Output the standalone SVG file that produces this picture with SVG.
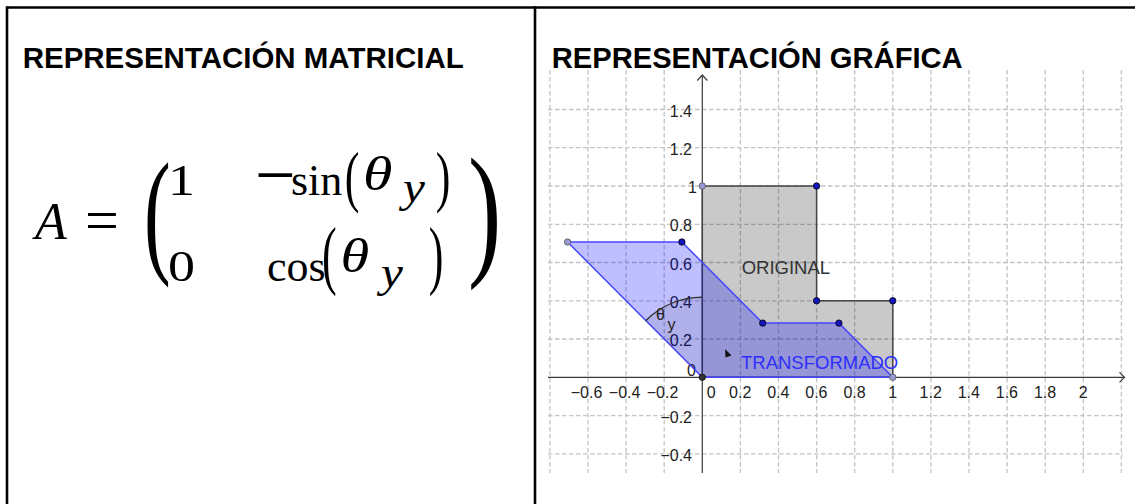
<svg xmlns="http://www.w3.org/2000/svg" width="1135" height="504" viewBox="0 0 1135 504">
<style>
.border{stroke:#000;stroke-width:2.6;fill:none}
.head{font-family:"Liberation Sans",Arial,sans-serif;font-weight:bold;font-size:29.2px;fill:#000}
.math{font-family:"Liberation Serif","Times New Roman",serif;fill:#000}
.it{font-style:italic}
.grid line{stroke:#c4c4c4;stroke-width:1.3;stroke-dasharray:4.5 2.5}
.axis{stroke:#3a3a3a;stroke-width:1.2;fill:none}
.tick{font-family:"Liberation Sans",Arial,sans-serif;font-size:16px;fill:#222}
.lbl{font-family:"Liberation Sans",Arial,sans-serif;font-size:18.5px}
.pd{fill:#1515c0;stroke:#000;stroke-width:0.8}
.pl{fill:#9a9ad8;stroke:#555;stroke-width:0.8}
</style>
<g id="table">
<line class="border" x1="7" y1="7.5" x2="1135" y2="7.5"/>
<line class="border" x1="7" y1="6.2" x2="7" y2="504"/>
<line class="border" x1="535" y1="6.2" x2="535" y2="504"/>
</g>
<g id="matrix-panel">
<text class="head" x="22.7" y="67.5" textLength="441" lengthAdjust="spacingAndGlyphs">REPRESENTACIÓN MATRICIAL</text>
<text class="math it" x="35" y="239" font-size="52">A</text>
<text class="math" x="85" y="240" font-size="60">=</text>
<text class="math" font-size="80" transform="translate(144,224) scale(1,1.72)" x="0" y="19.9">(</text>
<text class="math" font-size="45" transform="translate(181.5,195) scale(1.2,1)" text-anchor="middle">1</text>
<text class="math" font-size="45" transform="translate(181.5,281) scale(1.2,1)" text-anchor="middle">0</text>
<text class="math" font-size="72" x="255" y="199">−</text>
<text class="math" font-size="44" x="291" y="195">sin</text>
<text class="math" font-size="44" transform="translate(344.8,182.5) scale(1,1.54)" x="0" y="10.9">(</text>
<text class="math it" font-size="48" transform="translate(363,190) scale(1.25,1)">θ</text>
<text class="math it" font-size="44" transform="translate(403,202) scale(1.12,1)">y</text>
<text class="math" font-size="44" transform="translate(435.7,182.5) scale(1,1.54)" x="0" y="10.9">)</text>
<text class="math" font-size="44" x="267" y="281">cos</text>
<text class="math" font-size="44" transform="translate(322,261) scale(1,1.71)" x="0" y="10.9">(</text>
<text class="math it" font-size="48" transform="translate(340.5,272) scale(1.22,1)">θ</text>
<text class="math it" font-size="44" transform="translate(381,287) scale(1.12,1)">y</text>
<text class="math" font-size="44" transform="translate(428.7,261) scale(1,1.71)" x="0" y="10.9">)</text>
<text class="math" font-size="80" transform="translate(468,222.5) scale(1.25,1.84)" x="0" y="19.9">)</text>
</g>
<g id="graph-panel">
<text class="head" x="551.7" y="67.5" textLength="411" lengthAdjust="spacingAndGlyphs">REPRESENTACIÓN GRÁFICA</text>
<g class="grid">
<line x1="549.9" y1="70" x2="549.9" y2="473"/>
<line x1="588" y1="70" x2="588" y2="473"/>
<line x1="626.1" y1="70" x2="626.1" y2="473"/>
<line x1="664.2" y1="70" x2="664.2" y2="473"/>
<line x1="740.4" y1="70" x2="740.4" y2="473"/>
<line x1="778.5" y1="70" x2="778.5" y2="473"/>
<line x1="816.6" y1="70" x2="816.6" y2="473"/>
<line x1="854.7" y1="70" x2="854.7" y2="473"/>
<line x1="892.8" y1="70" x2="892.8" y2="473"/>
<line x1="930.9" y1="70" x2="930.9" y2="473"/>
<line x1="969" y1="70" x2="969" y2="473"/>
<line x1="1007.1" y1="70" x2="1007.1" y2="473"/>
<line x1="1045.2" y1="70" x2="1045.2" y2="473"/>
<line x1="1083.3" y1="70" x2="1083.3" y2="473"/>
<line x1="1121.4" y1="70" x2="1121.4" y2="473"/>
<line x1="548" y1="109.5" x2="1123" y2="109.5"/>
<line x1="548" y1="147.7" x2="1123" y2="147.7"/>
<line x1="548" y1="186" x2="1123" y2="186"/>
<line x1="548" y1="224.3" x2="1123" y2="224.3"/>
<line x1="548" y1="262.5" x2="1123" y2="262.5"/>
<line x1="548" y1="300.8" x2="1123" y2="300.8"/>
<line x1="548" y1="339" x2="1123" y2="339"/>
<line x1="548" y1="415.6" x2="1123" y2="415.6"/>
<line x1="548" y1="453.8" x2="1123" y2="453.8"/>
</g>
<g id="axes">
<line class="axis" x1="548" y1="377.3" x2="1124.5" y2="377.3"/>
<polyline class="axis" points="1119.5,372.3 1124.5,377.3 1119.5,382.3"/>
<line class="axis" x1="702.3" y1="473" x2="702.3" y2="75"/>
<polyline class="axis" points="697.3,80.5 702.3,75 707.3,80.5"/>
</g>
<g id="tick-labels" class="tick">
<text x="692" y="116.5" text-anchor="end">1.4</text>
<text x="692" y="154.7" text-anchor="end">1.2</text>
<text x="697" y="193" text-anchor="end">1</text>
<text x="692" y="231.3" text-anchor="end">0.8</text>
<text x="692" y="269.5" text-anchor="end">0.6</text>
<text x="692" y="307.8" text-anchor="end">0.4</text>
<text x="692" y="346" text-anchor="end">0.2</text>
<text x="696" y="375.7" text-anchor="end">0</text>
<text x="692" y="422.6" text-anchor="end">−0.2</text>
<text x="692" y="460.8" text-anchor="end">−0.4</text>
<text x="586.5" y="398" text-anchor="middle">−0.6</text>
<text x="624.6" y="398" text-anchor="middle">−0.4</text>
<text x="662.5" y="398" text-anchor="middle">−0.2</text>
<text x="711.3" y="398" text-anchor="middle">0</text>
<text x="740.2" y="398" text-anchor="middle">0.2</text>
<text x="778.3" y="398" text-anchor="middle">0.4</text>
<text x="816.4" y="398" text-anchor="middle">0.6</text>
<text x="854.5" y="398" text-anchor="middle">0.8</text>
<text x="892.6" y="398" text-anchor="middle">1</text>
<text x="930.7" y="398" text-anchor="middle">1.2</text>
<text x="968.8" y="398" text-anchor="middle">1.4</text>
<text x="1006.9" y="398" text-anchor="middle">1.6</text>
<text x="1045" y="398" text-anchor="middle">1.8</text>
<text x="1083.3" y="398" text-anchor="middle">2</text>
</g>
<g id="original">
<polygon points="702.3,377.3 892.8,377.3 892.8,300.8 816.6,300.8 816.6,186 702.3,186" fill="#000" fill-opacity="0.21" stroke="#444" stroke-width="1.5"/>
<text class="lbl" x="741.7" y="274" fill="#333">ORIGINAL</text>
</g>
<g id="transformado">
<polygon points="702.3,377.3 892.8,377.3 838.9,323.1 762.7,323.1 681.9,242 567.6,242" fill="#0000ff" fill-opacity="0.25" stroke="#4646ff" stroke-width="1.5"/>
<text class="lbl" x="741" y="368.5" fill="#2e2eff">TRANSFORMADO</text>
</g>
<g id="angle">
<path d="M702.3,377.3 L702.3,297.3 A80,80 0 0 0 645.7,320.7 Z" fill="#000" fill-opacity="0.08" stroke="none"/>
<path d="M702.3,297.3 A80,80 0 0 0 645.7,320.7" fill="none" stroke="#333" stroke-width="1.5"/>
<text x="656" y="320" font-family="'Liberation Sans',Arial,sans-serif" font-size="16" fill="#222">θ</text>
<text x="667.5" y="329.5" font-family="'Liberation Sans',Arial,sans-serif" font-size="16" fill="#222">y</text>
</g>
<g id="points">
<circle class="pl" cx="702.3" cy="186" r="3.2"/>
<circle class="pd" cx="816.6" cy="186" r="3.2"/>
<circle class="pd" cx="816.6" cy="300.8" r="3.2"/>
<circle class="pd" cx="892.8" cy="300.8" r="3.2"/>
<circle class="pl" cx="892.8" cy="377.3" r="3.2"/>
<circle cx="702.3" cy="377.3" r="3.2" fill="#333" stroke="#111" stroke-width="0.8"/>
<circle class="pl" cx="567.6" cy="242" r="3.2"/>
<circle class="pd" cx="681.9" cy="242" r="3.2"/>
<circle class="pd" cx="762.7" cy="323.1" r="3.2"/>
<circle class="pd" cx="838.9" cy="323.1" r="3.2"/>
</g>
<polygon id="cursor" points="725,349 731.5,355.5 725.5,357.5" fill="#111"/>
</g>
</svg>
